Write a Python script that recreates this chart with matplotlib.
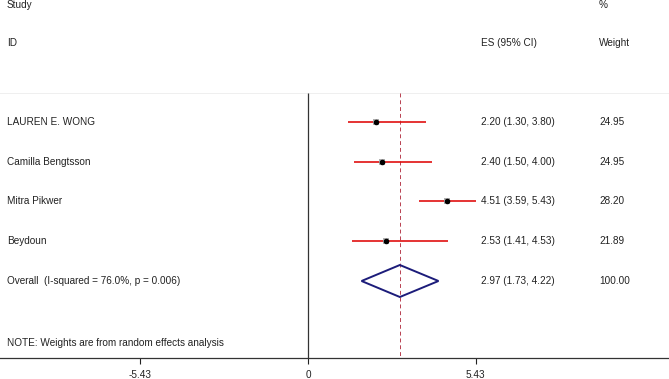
import matplotlib
matplotlib.use("Agg")
import matplotlib.pyplot as plt
import numpy as np

studies = ["LAUREN E. WONG", "Camilla Bengtsson", "Mitra Pikwer", "Beydoun"]
es = [2.20, 2.40, 4.51, 2.53]
lo = [1.30, 1.50, 3.59, 1.41]
hi = [3.80, 4.00, 5.43, 4.53]
weights = [24.95, 24.95, 28.20, 21.89]
overall_label = "Overall  (I-squared = 76.0%, p = 0.006)"
overall = [2.97, 1.73, 4.22]
overall_weight = 100.00
tick_vals = [-5.43, 0, 5.43]
tick_labels = ["-5.43", "0", "5.43"]

plt.rcParams['font.family'] = ['Liberation Sans', 'DejaVu Sans']
W, H = 669, 379
fig = plt.figure(figsize=(W / 100, H / 100), dpi=100)
ax_bottom_px = 358
ax = fig.add_axes([0, (H - ax_bottom_px) / H, 1, ax_bottom_px / H])
ax.set_xlim(-9.97, 11.68)
ax.set_ylim(ax_bottom_px, 0)
for s in ["top", "left", "right"]:
    ax.spines[s].set_visible(False)
ax.spines["bottom"].set_linewidth(0.9)
ax.spines["bottom"].set_color("#333333")
ax.set_yticks([])
ax.set_xticks(tick_vals)
ax.set_xticklabels(tick_labels, fontsize=7.2)
ax.tick_params(axis="x", direction="out", length=4, width=0.8, pad=5, colors="#222222")

fs = 7.2
px = 30.9
x_lab = -9.97 + 7 / px
x_es = -9.97 + 481 / px
x_wt = -9.97 + 599 / px

row_y = [122, 162, 201, 241]
over_y = 281

# faint top rule
ax.axhline(93, color="#efefef", lw=0.7)
# null line
ax.vlines(0, 93, ax_bottom_px, color="#333333", lw=0.9)
# overall dashed line
ax.vlines(overall[0], 93, ax_bottom_px, color="#b84050", lw=0.7, linestyles=(0, (4, 3)))

for i, (s, e, l, h, w) in enumerate(zip(studies, es, lo, hi, weights)):
    y = row_y[i]
    ax.hlines(y, l, h, color="#e01010", lw=1.2)
    ax.scatter([e], [y], marker="s", s=w * 0.9, color="#b0b0b0", zorder=3, linewidths=0)
    ax.scatter([e], [y], marker="o", s=9, color="black", zorder=4)
    ax.text(x_lab, y, s, fontsize=fs, va="center", ha="left", color="#222222")
    ax.text(x_es, y, f"{e:.2f} ({l:.2f}, {h:.2f})", fontsize=fs, va="center", ha="left", color="#222222")
    ax.text(x_wt, y, f"{w:.2f}", fontsize=fs, va="center", ha="left", color="#222222")

e, l, h = overall
ax.fill([l, e, h, e, l], [over_y, over_y - 16, over_y, over_y + 16, over_y],
        facecolor="none", edgecolor="#1c1c7a", lw=1.4, zorder=5)
ax.text(x_lab, over_y, overall_label, fontsize=fs, va="center", ha="left", color="#222222")
ax.text(x_es, over_y, f"{e:.2f} ({l:.2f}, {h:.2f})", fontsize=fs, va="center", ha="left", color="#222222")
ax.text(x_wt, over_y, f"{overall_weight:.2f}", fontsize=fs, va="center", ha="left", color="#222222")

ax.text(x_lab, 343, "NOTE: Weights are from random effects analysis", fontsize=fs, va="center", ha="left", color="#222222")

# headers
ax.text(x_lab, 5, "Study", fontsize=fs, va="center", ha="left", color="#222222")
ax.text(x_wt, 5, "%", fontsize=fs, va="center", ha="left", color="#222222")
ax.text(x_lab, 43, "ID", fontsize=fs, va="center", ha="left", color="#222222")
ax.text(x_es, 43, "ES (95% CI)", fontsize=fs, va="center", ha="left", color="#222222")
ax.text(x_wt, 43, "Weight", fontsize=fs, va="center", ha="left", color="#222222")

for t in ax.texts:
    t.set_clip_on(False)

fig.savefig("out.png", dpi=100, facecolor="white")
